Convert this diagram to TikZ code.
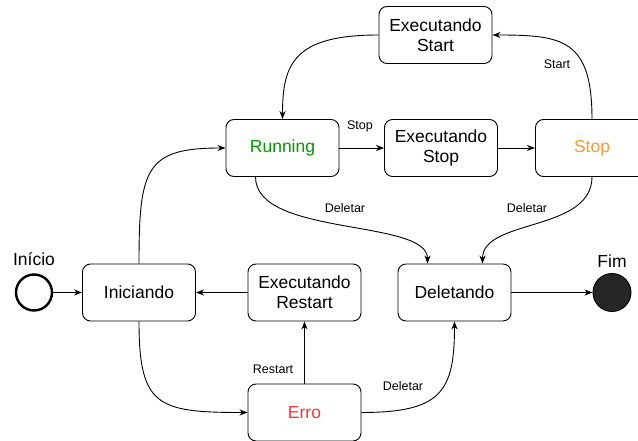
\documentclass[tikz,border=0pt]{standalone}
\usepackage{fontspec}
\setmainfont{Liberation Sans}
\usetikzlibrary{arrows.meta}
\definecolor{rungreen}{RGB}{0,153,0}
\definecolor{stoporange}{RGB}{255,153,51}
\definecolor{errred}{RGB}{255,51,51}
\tikzset{
  state/.style={draw, rounded corners=8pt, minimum width=113pt, minimum height=57pt, align=center, font=\fontsize{17.5}{20}\selectfont, line width=0.9pt, inner sep=0pt},
  lbl/.style={font=\fontsize{12.5}{14}\selectfont, inner sep=1pt},
  arr/.style={-{Stealth[length=8pt,width=6pt,inset=2.5pt]}, line width=0.9pt},
}
\begin{document}
\begin{tikzpicture}[x=1pt,y=-1pt]
\useasboundingbox (0,0) rectangle (638,441);
\clip (0,0) rectangle (638,441);
\node[state] (exstart) at (435.5,35) {Executando\\Start};
\node[state, text=rungreen] (run) at (282.5,148) {Running};
\node[state] (exstop) at (441,148) {Executando\\Stop};
\node[state, text=stoporange] (stop) at (592,148) {Stop};
\node[draw, circle, line width=2.4pt, minimum size=36pt, inner sep=0pt] (ini) at (34,292.5) {};
\node[font=\fontsize{17.5}{20}\selectfont] (initxt) at (34,259) {Início};
\node[state] (inic) at (139,292.5) {Iniciando};
\node[state] (exrest) at (304.5,292.5) {Executando\\Restart};
\node[state] (del) at (454.5,292.5) {Deletando};
\node[draw, circle, fill=black!85, line width=0.9pt, minimum size=38pt, inner sep=0pt] (fim) at (612,292.5) {};
\node[font=\fontsize{17.5}{20}\selectfont] (fimtxt) at (612,261) {Fim};
\node[state, text=errred] (erro) at (304.5,412.5) {Erro};

\draw[arr] (ini) -- (inic);
\draw[arr] (inic.north) .. controls +(0,-95) and +(-80,0) .. (run.west);
\draw[arr] (inic.south) .. controls +(0,85) and +(-90,0) .. (erro.west);
\draw[arr] (erro.north) -- (exrest.south);
\draw[arr] (exrest.west) -- (inic.east);
\draw[arr] (erro.east) .. controls +(80,0) and +(0,70) .. (del.south);
\draw[arr] (run.east) -- (exstop.west);
\draw[arr] (exstop.east) -- (stop.west);
\draw[arr] (stop.north) .. controls +(0,-80) and +(70,0) .. (exstart.east);
\draw[arr] (exstart.west) .. controls +(-85,0) and +(0,-55) .. (run.north);
\draw[arr] ([xshift=-27pt]run.south) .. controls +(0,60) and +(0,-45) .. ([xshift=-27pt]del.north);
\draw[arr] (stop.south) .. controls +(0,55) and +(0,-45) .. ([xshift=28pt]del.north);
\draw[arr] (del.east) -- (fim.west);

\node[lbl] (lrest) at (273,369) {Restart};
\node[lbl] (ldel3) at (403,386) {Deletar};
\node[lbl] (lstop) at (360,126) {Stop};
\node[lbl] (lstart) at (557,64) {Start};
\node[lbl] (ldel1) at (345,208) {Deletar};
\node[lbl] (ldel2) at (527,208) {Deletar};
\end{tikzpicture}
\end{document}
